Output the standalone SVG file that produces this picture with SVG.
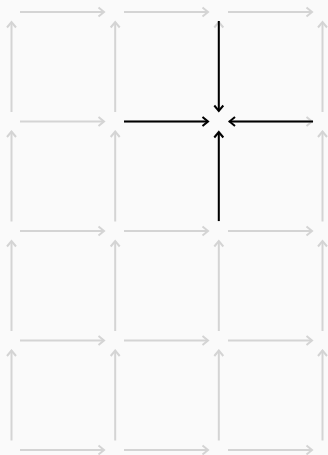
<svg xmlns="http://www.w3.org/2000/svg" width="328" height="455" viewBox="0 0 328 455">
<defs>
<marker id="ag" viewBox="-7 -6 9 12" refX="0" refY="0" markerWidth="9" markerHeight="12" markerUnits="userSpaceOnUse" orient="auto"><path d="M-5.5,-4.5 L0,0 L-5.5,4.5" fill="none" stroke="#d4d4d4" stroke-width="2"/></marker>
<marker id="ab" viewBox="-7 -6 9 12" refX="0" refY="0" markerWidth="9" markerHeight="12" markerUnits="userSpaceOnUse" orient="auto"><path d="M-5.5,-4.5 L0,0 L-5.5,4.5" fill="none" stroke="#000" stroke-width="2"/></marker>
<style>
.g{stroke:#d4d4d4;stroke-width:2;fill:none;marker-end:url(#ag)}
.b{stroke:#000;stroke-width:2;fill:none;marker-end:url(#ab)}
</style>
</defs>
<rect width="328" height="455" fill="#fafafa"/>
<g id="connectors">
<g id="horizontal">
<line class="g" x1="20" y1="12" x2="104" y2="12"/>
<line class="g" x1="124" y1="12" x2="208" y2="12"/>
<line class="g" x1="228" y1="12" x2="312" y2="12"/>
<line class="g" x1="20" y1="121.5" x2="104" y2="121.5"/>
<line class="g" x1="124" y1="121.5" x2="208" y2="121.5"/>
<line class="g" x1="228" y1="121.5" x2="312" y2="121.5"/>
<line class="g" x1="20" y1="231" x2="104" y2="231"/>
<line class="g" x1="124" y1="231" x2="208" y2="231"/>
<line class="g" x1="228" y1="231" x2="312" y2="231"/>
<line class="g" x1="20" y1="340.5" x2="104" y2="340.5"/>
<line class="g" x1="124" y1="340.5" x2="208" y2="340.5"/>
<line class="g" x1="228" y1="340.5" x2="312" y2="340.5"/>
<line class="g" x1="20" y1="450" x2="104" y2="450"/>
<line class="g" x1="124" y1="450" x2="208" y2="450"/>
<line class="g" x1="228" y1="450" x2="312" y2="450"/>
</g>
<g id="vertical">
<line class="g" x1="11.5" y1="112" x2="11.5" y2="22"/>
<line class="g" x1="115.2" y1="112" x2="115.2" y2="22"/>
<line class="g" x1="218.8" y1="112" x2="218.8" y2="22"/>
<line class="g" x1="322.5" y1="112" x2="322.5" y2="22"/>
<line class="g" x1="11.5" y1="221.5" x2="11.5" y2="131.5"/>
<line class="g" x1="115.2" y1="221.5" x2="115.2" y2="131.5"/>
<line class="g" x1="218.8" y1="221.5" x2="218.8" y2="131.5"/>
<line class="g" x1="322.5" y1="221.5" x2="322.5" y2="131.5"/>
<line class="g" x1="11.5" y1="331" x2="11.5" y2="241"/>
<line class="g" x1="115.2" y1="331" x2="115.2" y2="241"/>
<line class="g" x1="218.8" y1="331" x2="218.8" y2="241"/>
<line class="g" x1="322.5" y1="331" x2="322.5" y2="241"/>
<line class="g" x1="11.5" y1="440.5" x2="11.5" y2="350.5"/>
<line class="g" x1="115.2" y1="440.5" x2="115.2" y2="350.5"/>
<line class="g" x1="218.8" y1="440.5" x2="218.8" y2="350.5"/>
<line class="g" x1="322.5" y1="440.5" x2="322.5" y2="350.5"/>
</g>
<g id="highlighted">
<line class="b" x1="218.8" y1="21" x2="218.8" y2="111"/>
<line class="b" x1="124" y1="121.5" x2="208" y2="121.5"/>
<line class="b" x1="313" y1="121.5" x2="229.5" y2="121.5"/>
<line class="b" x1="218.8" y1="221" x2="218.8" y2="132"/>
</g>
</g>
</svg>
